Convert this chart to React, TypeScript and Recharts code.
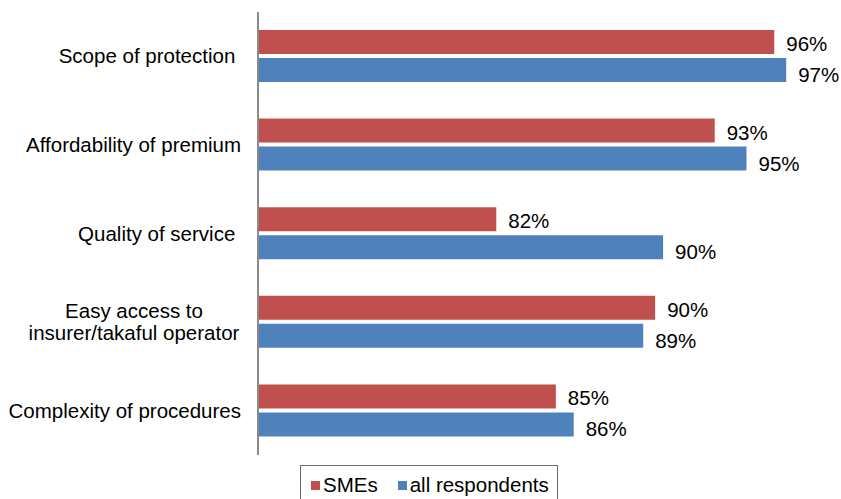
import React from 'react';
import { BarChart, Bar, XAxis, YAxis, LabelList, Legend } from 'recharts';

const categories = [
  'Scope of protection ',
  'Affordability of premium',
  'Quality of service ',
  'Easy access to\ninsurer/takaful operator',
  'Complexity of procedures',
];
const smes = [96, 93, 82, 90, 85];
const allRespondents = [96.6, 94.6, 90.4, 89.4, 85.9];

const RED = '#C0504D';
const BLUE = '#4F81BD';
const FONT = '"Liberation Sans", Arial, sans-serif';
const FS = 20.5;

const data = categories.map((name, i) => ({
  name,
  smes: smes[i],
  all: allRespondents[i],
}));

const CategoryTick = (props: any) => {
  const { y, payload } = props;
  const lines: string[] = String(payload.value).split('\n');
  if (lines.length > 1) {
    return (
      <text x={134} y={y} textAnchor="middle" fontSize={FS} fontFamily={FONT} fill="#000">
        {lines.map((l, i) => (
          <tspan key={i} x={134} dy={i === 0 ? -(lines.length - 1) * 11 + 7 : 22}>
            {l}
          </tspan>
        ))}
      </text>
    );
  }
  return (
    <text x={241} y={y} dy={7} textAnchor="end" fontSize={FS} fontFamily={FONT} fill="#000" style={{ whiteSpace: 'pre' }}>
      {payload.value}
    </text>
  );
};

const makeLabel = (dy: number) => (props: any) => {
  const { x, y, width, height, value } = props;
  return (
    <text x={x + width + 12} y={y + height / 2 + dy} dy={7} fontSize={FS} fontFamily={FONT} fill="#000">
      {`${Math.round(value)}%`}
    </text>
  );
};

const LegendBox = () => (
  <div
    style={{
      position: 'absolute',
      left: 300,
      top: 465,
      width: 258,
      height: 40,
      border: '1.5px solid #6b6b6b',
      boxSizing: 'border-box',
      display: 'flex',
      alignItems: 'center',
      fontFamily: FONT,
      fontSize: FS,
      color: '#000',
      paddingLeft: 10,
    }}
  >
    <span style={{ display: 'inline-block', width: 9, height: 9, background: RED, marginRight: 3 }} />
    <span style={{ marginRight: 20 }}>SMEs</span>
    <span style={{ display: 'inline-block', width: 9, height: 9, background: BLUE, marginRight: 3 }} />
    <span>all respondents</span>
  </div>
);

export default function App() {
  return (
    <div style={{ position: 'absolute', left: 0, top: 0, width: 841, height: 499, background: '#fff', overflow: 'hidden' }}>
      <BarChart
        width={841}
        height={499}
        data={data}
        layout="vertical"
        margin={{ top: 12, right: 27, bottom: 44, left: 0 }}
        barSize={24}
        barGap={4}
      >
        <XAxis type="number" domain={[70, 98]} hide allowDataOverflow />
        <YAxis
          type="category"
          dataKey="name"
          width={258}
          axisLine={{ stroke: '#8a8a8a', strokeWidth: 2 }}
          tickLine={false}
          tick={<CategoryTick />}
          interval={0}
        />
        <Bar dataKey="smes" name="SMEs" fill={RED} isAnimationActive={false}>
          <LabelList dataKey="smes" content={makeLabel(2)} />
        </Bar>
        <Bar dataKey="all" name="all respondents" fill={BLUE} isAnimationActive={false}>
          <LabelList dataKey="all" content={makeLabel(5)} />
        </Bar>
        <Legend content={() => null} />
      </BarChart>
      <LegendBox />
    </div>
  );
}
